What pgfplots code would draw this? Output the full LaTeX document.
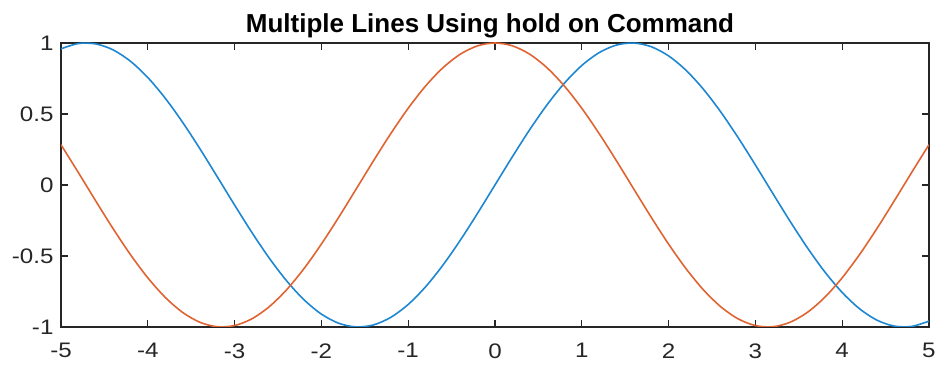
\documentclass[border=0pt]{standalone}
\usepackage{pgfplots}
\pgfplotsset{compat=1.18}
\usetikzlibrary{calc}
\usepackage{fontspec}
\setmainfont{Liberation Sans}
\newfontfamily\tickfont[FakeStretch=1.15]{Liberation Sans}
\definecolor{mblue}{RGB}{30,135,210}
\definecolor{morange}{RGB}{224,100,50}
\definecolor{axgray}{RGB}{38,38,38}
\begin{document}
\begin{tikzpicture}
\begin{axis}[
    scale only axis,
    width=868pt, height=284pt,
    xmin=-5, xmax=5, ymin=-1, ymax=1,
    xtick={-5,-4,...,5},
    ytick={-1,-0.5,0,0.5,1},
    yticklabels={-1,-0.5,0,0.5,1},
    xticklabels={-5,-4,-3,-2,-1,0,1,2,3,4,5},
    tick align=inside,
    major tick length=7pt,
    axis line style={axgray, line width=1.2pt},
    every tick/.style={axgray, line width=1.2pt},
    tick label style={font=\tickfont\fontsize{21}{23}\selectfont, text=axgray},
    xticklabel style={yshift=-13pt},
    yticklabel style={xshift=-4pt},
    title={\bfseries Multiple Lines Using hold on Command},
    title style={font=\fontsize{26}{29}\selectfont, yshift=-5pt, xshift=-5pt},
]
% y = sin(x)
\addplot[mblue, line width=1.6pt, smooth] coordinates {
(-5.0,0.95892) (-4.8,0.99616) (-4.6,0.99369) (-4.4,0.95160) (-4.2,0.87158)
(-4.0,0.75680) (-3.8,0.61186) (-3.6,0.44252) (-3.4,0.25554) (-3.2,0.05837)
(-3.0,-0.14112) (-2.8,-0.33499) (-2.6,-0.51550) (-2.4,-0.67546) (-2.2,-0.80850)
(-2.0,-0.90930) (-1.8,-0.97385) (-1.6,-0.99957) (-1.4,-0.98545) (-1.2,-0.93204)
(-1.0,-0.84147) (-0.8,-0.71736) (-0.6,-0.56464) (-0.4,-0.38942) (-0.2,-0.19867)
(0.0,0.0)
(0.2,0.19867) (0.4,0.38942) (0.6,0.56464) (0.8,0.71736) (1.0,0.84147)
(1.2,0.93204) (1.4,0.98545) (1.6,0.99957) (1.8,0.97385) (2.0,0.90930)
(2.2,0.80850) (2.4,0.67546) (2.6,0.51550) (2.8,0.33499) (3.0,0.14112)
(3.2,-0.05837) (3.4,-0.25554) (3.6,-0.44252) (3.8,-0.61186) (4.0,-0.75680)
(4.2,-0.87158) (4.4,-0.95160) (4.6,-0.99369) (4.8,-0.99616) (5.0,-0.95892)
};
% y = cos(x)
\addplot[morange, line width=1.6pt, smooth] coordinates {
(-5.0,0.28366) (-4.8,0.08750) (-4.6,-0.11215) (-4.4,-0.30733) (-4.2,-0.49026)
(-4.0,-0.65364) (-3.8,-0.79097) (-3.6,-0.89676) (-3.4,-0.96680) (-3.2,-0.99829)
(-3.0,-0.98999) (-2.8,-0.94222) (-2.6,-0.85689) (-2.4,-0.73739) (-2.2,-0.58850)
(-2.0,-0.41615) (-1.8,-0.22720) (-1.6,-0.02920) (-1.4,0.16997) (-1.2,0.36236)
(-1.0,0.54030) (-0.8,0.69671) (-0.6,0.82534) (-0.4,0.92106) (-0.2,0.98007)
(0.0,1.0)
(0.2,0.98007) (0.4,0.92106) (0.6,0.82534) (0.8,0.69671) (1.0,0.54030)
(1.2,0.36236) (1.4,0.16997) (1.6,-0.02920) (1.8,-0.22720) (2.0,-0.41615)
(2.2,-0.58850) (2.4,-0.73739) (2.6,-0.85689) (2.8,-0.94222) (3.0,-0.98999)
(3.2,-0.99829) (3.4,-0.96680) (3.6,-0.89676) (3.8,-0.79097) (4.0,-0.65364)
(4.2,-0.49026) (4.4,-0.30733) (4.6,-0.11215) (4.8,0.08750) (5.0,0.28366)
};
\end{axis}
% page size matching the reference margins around the axis box
\useasboundingbox ($(current axis.south west)+(-61pt,-39pt)$) rectangle ($(current axis.north east)+(10pt,43pt)$);
\end{tikzpicture}
\end{document}
